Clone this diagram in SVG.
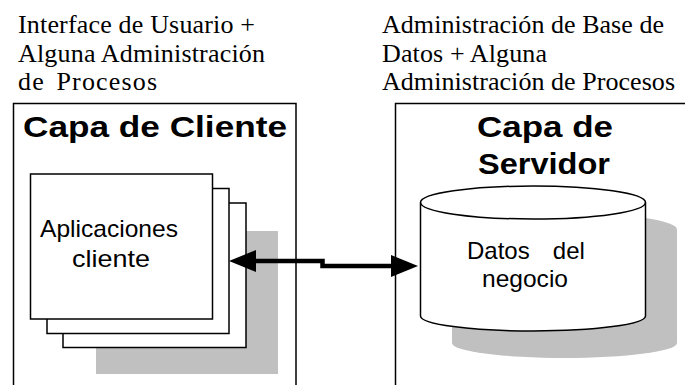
<svg xmlns="http://www.w3.org/2000/svg" width="685" height="385" viewBox="0 0 685 385">
<defs>
<style>
.lbl{font-family:"Liberation Serif","Times New Roman",serif;font-size:26px;fill:#000}
.ttl{font-family:"Liberation Sans",Arial,sans-serif;font-size:30px;font-weight:bold;fill:#000}
.txt{font-family:"Liberation Sans",Arial,sans-serif;font-size:24px;fill:#000}
.frame{fill:none;stroke:#000;stroke-width:1.5}
.box{fill:#fff;stroke:#000;stroke-width:1.5}
.shadow{fill:#c0c0c0;stroke:none}
.conn{fill:none;stroke:#000;stroke-width:4.5}
</style>
<marker id="ah" markerUnits="userSpaceOnUse" markerWidth="27" markerHeight="22" refX="5" refY="11" orient="auto-start-reverse">
<path d="M0,0 L27,11 L0,22 Z" fill="#000"/>
</marker>
</defs>
<rect width="685" height="385" fill="#fff"/>

<g id="label-cliente">
<text class="lbl" x="18" y="33" textLength="237" lengthAdjust="spacing">Interface de Usuario +</text>
<text class="lbl" x="18" y="62" textLength="247" lengthAdjust="spacing">Alguna Administración</text>
<text class="lbl" x="18" y="89.5" word-spacing="4" textLength="139" lengthAdjust="spacing">de Procesos</text>
</g>

<g id="label-servidor">
<text class="lbl" x="382" y="33" textLength="282" lengthAdjust="spacing">Administración de Base de</text>
<text class="lbl" x="382" y="62" textLength="165" lengthAdjust="spacing">Datos + Alguna</text>
<text class="lbl" x="382" y="89.5" textLength="293" lengthAdjust="spacing">Administración de Procesos</text>
</g>

<g id="capa-cliente">
<path class="frame" d="M13.5,385 V103.5 H296 V385"/>
<text class="ttl" x="23" y="137" textLength="264" lengthAdjust="spacingAndGlyphs">Capa de Cliente</text>
</g>

<g id="aplicaciones-cliente">
<rect class="shadow" x="96" y="231" width="182" height="143"/>
<rect class="box" x="63" y="203" width="183" height="144.5"/>
<rect class="box" x="47" y="188.5" width="182" height="145"/>
<rect class="box" x="30.5" y="174" width="182" height="145"/>
<text class="txt" x="40" y="237" textLength="138" lengthAdjust="spacingAndGlyphs">Aplicaciones</text>
<text class="txt" x="72" y="267" textLength="78" lengthAdjust="spacingAndGlyphs">cliente</text>
</g>

<g id="capa-servidor">
<path class="frame" d="M395.5,385 V103.5 H686"/>
<text class="ttl" x="477" y="137" textLength="136" lengthAdjust="spacingAndGlyphs">Capa de</text>
<text class="ttl" x="478" y="174" textLength="132" lengthAdjust="spacingAndGlyphs">Servidor</text>
</g>

<g id="datos-negocio">
<path class="shadow" d="M452,229.5 V343 A112.5,15 0 0 0 677,343 V229.5 A112.5,16.5 0 0 0 452,229.5 Z"/>
<path class="box" d="M420.5,202.5 V316 A112.5,15 0 0 0 645.5,316 V202.5 A112.5,16.5 0 0 0 420.5,202.5 Z"/>
<path fill="none" stroke="#000" stroke-width="1.5" d="M420.5,202.5 A112.5,16.5 0 0 0 645.5,202.5"/>
<text class="txt" x="467" y="259" word-spacing="16.5">Datos del</text>
<text class="txt" x="482" y="287" textLength="86" lengthAdjust="spacingAndGlyphs">negocio</text>
</g>

<g id="connectors">
<path class="conn" d="M251,261 H322.5 V266 H396" marker-start="url(#ah)" marker-end="url(#ah)"/>
</g>
</svg>
